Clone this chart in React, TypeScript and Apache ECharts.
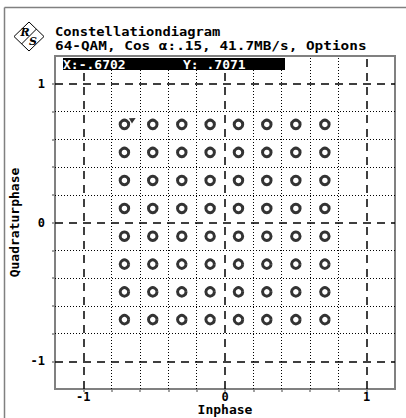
import React, { useEffect, useRef } from "react";
import * as echarts from "echarts";

const I_LEVELS = [-0.71, -0.51, -0.305, -0.105, 0.095, 0.295, 0.5, 0.705];
const Q_LEVELS = [0.707, 0.505, 0.303, 0.101, -0.099, -0.3, -0.5, -0.7];
const DOTTED_LINES = [-0.8, -0.6, -0.4, -0.2, 0.2, 0.4, 0.6, 0.8];
const DASHED_LINES = [-1, 0, 1];
const MARKER = [-0.6702, 0.7071];
const TITLE = "Constellationdiagram";
const SUBTITLE = "64-QAM, Cos \u03b1:.15, 41.7MB/s, Options";
const MARKER_X_TEXT = "X:-.6702";
const MARKER_Y_TEXT = "Y: .7071";

const FONT = "'DejaVu Sans Mono', 'Liberation Mono', monospace";

export default function App() {
  const ref = useRef<HTMLDivElement>(null);
  useEffect(() => {
    if (!ref.current) return;
    const chart = echarts.init(ref.current, null, { renderer: "svg" });
    const points: number[][] = [];
    for (const q of Q_LEVELS) for (const i of I_LEVELS) points.push([i, q]);

    const gridMarks: any[] = [];
    DOTTED_LINES.forEach((v) => {
      const ls = { type: [1, 2], width: 1, color: "#000" };
      gridMarks.push({ xAxis: v, lineStyle: ls });
      gridMarks.push({ yAxis: v, lineStyle: ls });
    });
    DASHED_LINES.forEach((v) => {
      const ls = { type: [8, 6], width: 1.5, color: "#000" };
      gridMarks.push({ xAxis: v, lineStyle: ls });
      gridMarks.push({ yAxis: v, lineStyle: ls });
    });

    const intFmt = (v: number) =>
      Math.abs(v - Math.round(v)) < 1e-6 ? String(Math.round(v)) : "";

    const axisCommon = {
      min: -1.2,
      max: 1.2,
      interval: 0.2,
      splitLine: { show: false },
      nameMoveOverlap: false,
      axisLine: { show: true, onZero: false, lineStyle: { color: "#808080", width: 2 } },
      axisTick: { show: true, length: 3, lineStyle: { color: "#808080", width: 1.5 } },
      nameTextStyle: { fontFamily: FONT, fontWeight: "bold", fontSize: 13, color: "#000" },
    };

    const labelStyle = {
      formatter: intFmt,
      fontFamily: FONT,
      fontWeight: "bold",
      fontSize: 12,
      lineHeight: 11,
      color: "#000",
      showMinLabel: false,
      showMaxLabel: false,
    };

    chart.setOption({
      animation: false,
      backgroundColor: "#fff",
      grid: {
        left: 55,
        top: 56,
        right: 11,
        bottom: 29,
        containLabel: false,
        outerBoundsMode: "none",
        show: true,
        borderColor: "#808080",
        borderWidth: 2,
      },
      xAxis: {
        ...axisCommon,
        type: "value",
        name: "Inphase",
        nameLocation: "middle",
        nameGap: 14,
        axisLabel: { ...labelStyle, margin: 2 },
      },
      yAxis: {
        ...axisCommon,
        type: "value",
        name: "Quadraturphase",
        nameLocation: "middle",
        nameGap: 34,
        nameRotate: 90,
        axisLabel: { ...labelStyle, margin: 10 },
      },
      series: [
        {
          type: "line",
          data: [],
          z: 1,
          silent: true,
          markLine: {
            silent: true,
            symbol: ["none", "none"],
            label: { show: false },
            animation: false,
            data: gridMarks,
          },
        },
        {
          type: "scatter",
          z: 3,
          data: points,
          symbol: "circle",
          symbolSize: 8.5,
          itemStyle: { color: "#fff", borderColor: "#000", borderWidth: 3 },
        },
        {
          type: "scatter",
          z: 4,
          data: [MARKER],
          symbol: "triangle",
          symbolSize: 6,
          symbolRotate: -60,
          symbolOffset: [3, -5],
          itemStyle: { color: "#000" },
        },
      ],
      graphic: [
        {
          type: "line",
          shape: { x1: 4.5, y1: 7.5, x2: 406, y2: 7.5 },
          style: { stroke: "#808080", lineWidth: 1.5 },
        },
        {
          type: "line",
          shape: { x1: 4.5, y1: 7.5, x2: 4.5, y2: 418 },
          style: { stroke: "#808080", lineWidth: 1.5 },
        },
        {
          type: "polygon",
          shape: { points: [[29, 22], [44, 36.5], [29, 51], [14, 36.5]] },
          style: { fill: "#fff", stroke: "#000", lineWidth: 1 },
        },
        {
          type: "line",
          shape: { x1: 36.5, y1: 29, x2: 21.5, y2: 44 },
          style: { stroke: "#000", lineWidth: 1 },
        },
        {
          type: "text",
          x: 25,
          y: 32,
          style: {
            text: "R",
            font: "italic bold 11px 'DejaVu Serif', serif",
            fill: "#000",
            align: "center",
            verticalAlign: "middle",
          },
        },
        {
          type: "text",
          x: 33,
          y: 41,
          style: {
            text: "S",
            font: "italic bold 11px 'DejaVu Serif', serif",
            fill: "#000",
            align: "center",
            verticalAlign: "middle",
          },
        },
        {
          type: "text",
          x: 55,
          y: 32,
          scaleX: 1.1,
          style: {
            text: TITLE,
            font: "bold 12.5px " + FONT,
            fill: "#000",
            verticalAlign: "middle",
          },
        },
        {
          type: "text",
          x: 55,
          y: 45.5,
          scaleX: 1.15,
          style: {
            text: SUBTITLE,
            font: "bold 12.5px " + FONT,
            fill: "#000",
            verticalAlign: "middle",
          },
        },
        {
          type: "rect",
          z: 10,
          shape: { x: 63, y: 58, width: 222, height: 12 },
          style: { fill: "#000" },
        },
        {
          type: "text",
          z: 11,
          x: 63,
          y: 64,
          style: {
            text: MARKER_X_TEXT,
            font: "bold 13px " + FONT,
            fill: "#fff",
            verticalAlign: "middle",
          },
        },
        {
          type: "text",
          z: 11,
          x: 183,
          y: 64,
          style: {
            text: MARKER_Y_TEXT,
            font: "bold 13px " + FONT,
            fill: "#fff",
            verticalAlign: "middle",
          },
        },
      ],
    });
    return () => chart.dispose();
  }, []);
  return (
    <div
      ref={ref}
      style={{ position: "fixed", left: 0, top: 0, width: 406, height: 418 }}
    />
  );
}
